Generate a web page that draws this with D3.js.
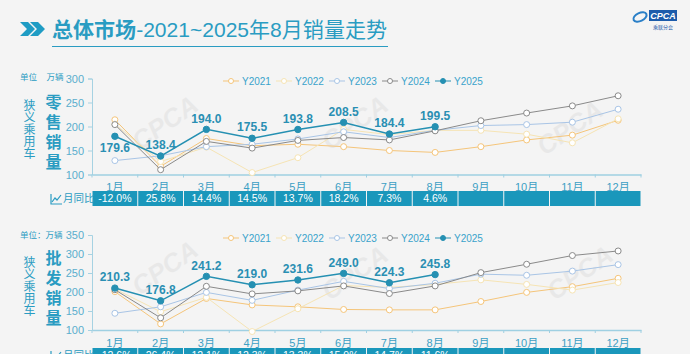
<!DOCTYPE html>
<html>
<head lang="zh">
<meta charset="UTF-8">
<title>总体市场</title>
<script src="https://cdn.jsdelivr.net/npm/d3@7/dist/d3.min.js"></script>
<style>
  body { margin:0; background:#f4f4f4; }
  svg text { font-family:"Liberation Sans","Noto Sans CJK SC",sans-serif; }
</style>
</head>
<body>
<script>
    var months = ['1月','2月','3月','4月','5月','6月','7月','8月','9月','10月','11月','12月'];
    var years = ['Y2021','Y2022','Y2023','Y2024','Y2025'];

    // 零售 (万辆)
    var retail2021 = [214,117,175,160,163,158,150,146,158,172,182,213];
    var retail2022 = [205,127,157,104,135,194,183,192,192,184,166,216];
    var retail2023 = [129,139,158,163,174,189,177,192,202,204,209,236];
    var retail2024 = [204,110,169,155,171,177,172,191,212,228,243,264];
    var retail2025 = [179.6,138.4,194.0,175.5,193.8,208.5,184.4,199.5];
    var retailYoy = ['-12.0%','25.8%','14.4%','14.5%','13.7%','18.2%','7.3%','4.6%','','','',''];
    var retailTicks = [100,150,200,250,300];

    // 批发 (万辆)
    var whole2021 = [201,116,183,166,161,154,153,153,175,199,214,236];
    var whole2022 = [208,148,186,96,156,217,212,220,232,220,205,225];
    var whole2023 = [144,161,199,178,205,228,209,223,247,244,255,272];
    var whole2024 = [206,132,215,195,203,216,196,216,251,273,296,308];
    var whole2025 = [210.3,176.8,241.2,219.0,231.6,249.0,224.3,245.8];
    var wholeYoy = ['-12.6%','26.4%','12.1%','12.3%','13.3%','15.9%','14.7%','11.6%','','','',''];
    var wholeTicks = [100,150,200,250,300,350];

    var colors = ['#f5c57a','#f6e4b4','#a9c5e6','#8a8a8a','#2590b2'];
    var teal = '#2a9cc2';

    var svg = d3.select("body").append("svg")
            .attr("width",690).attr("height",354);
    svg.append("rect").attr("width",690).attr("height",354).attr("fill","#f4f4f4");

    // 标题
    var gt = svg.append("g");
    [20,30].forEach(function(x){
        gt.append("path")
          .attr("d","M"+x+",22 L"+(x+8)+",22 L"+(x+15)+",29 L"+(x+8)+",36 L"+x+",36 L"+(x+7)+",29 Z")
          .attr("fill","#1f9cc4");
    });
    var title = gt.append("text").attr("x",52).attr("y",37)
            .attr("font-size",21).attr("fill",teal)
            .attr("textLength",335).attr("lengthAdjust","spacingAndGlyphs");
    title.append("tspan").attr("font-weight","bold").text("总体市场");
    title.append("tspan").text("-2021~2025年8月销量走势");
    gt.append("line").attr("x1",52).attr("x2",388).attr("y1",46.5).attr("y2",46.5)
            .attr("stroke",teal).attr("stroke-width",1.2);

    // logo
    var gl = svg.append("g");
    gl.append("ellipse").attr("cx",640).attr("cy",17).attr("rx",7).attr("ry",4)
            .attr("fill","none").attr("stroke","#2a7fc7").attr("stroke-width",2)
            .attr("transform","rotate(-25,640,17)");
    gl.append("rect").attr("x",649).attr("y",10).attr("width",28).attr("height",11).attr("fill","#1c5cab");
    gl.append("text").attr("x",663).attr("y",19).attr("text-anchor","middle")
            .attr("font-size",9).attr("font-weight","bold").attr("font-style","italic")
            .attr("fill","#fff").text("CPCA");
    gl.append("text").attr("x",663).attr("y",29).attr("text-anchor","middle")
            .attr("font-size",5).attr("fill","#1c5cab").text("乘联分会");

    // 水印
    [[170,130],[360,130],[575,135],[170,275],[360,280],[585,280]].forEach(function(p){
        svg.append("text").attr("x",p[0]).attr("y",p[1])
           .attr("transform","rotate(-35,"+p[0]+","+p[1]+")")
           .attr("text-anchor","middle").attr("font-size",26).attr("font-weight","bold")
           .attr("font-style","italic").attr("fill","#000").attr("opacity",0.045).text("CPCA");
    });

    var x = d3.scaleBand().domain(months).range([92,641]);

    function drawPanel(cfg){
        var y = d3.scaleLinear().domain(cfg.domain).range(cfg.range);
        var g = svg.append("g");
        var y0 = cfg.range[0];

        // 左侧文字 (竖排)
        g.append("text").attr("x",20).attr("y",cfg.unitY).attr("font-size",8.5)
         .attr("fill",teal).attr("xml:space","preserve").text(cfg.unit);
        g.append("text").attr("x",28).attr("y",cfg.nameY-6)
         .style("writing-mode","vertical-rl").attr("font-size",12)
         .attr("letter-spacing",0.2).attr("fill",teal).text("狭义乘用车");
        g.append("text").attr("x",52).attr("y",cfg.kindY-8)
         .style("writing-mode","vertical-rl").attr("font-size",16).attr("font-weight","bold")
         .attr("letter-spacing",4).attr("fill",teal).text(cfg.kind);

        // y轴
        var gy = g.append("g").attr("transform","translate(92,0)")
                .call(d3.axisLeft(y).tickValues(cfg.ticks).tickSize(4).tickPadding(4));
        gy.selectAll("path,line").attr("stroke","#a6d2e2");
        gy.selectAll("text").attr("fill","#5aaecd").attr("font-size",11).attr("font-family","Liberation Sans");

        // x轴
        var gx = g.append("g").attr("transform","translate(0,"+y0+")")
                .call(d3.axisBottom(x).tickSize(0).tickPadding(9));
        gx.select(".domain").attr("stroke","#9fd0e2").attr("stroke-width",1.5);
        gx.selectAll("text").attr("fill","#3c9fc4").attr("font-size",11);
        g.selectAll(".btick").data(months).enter().append("line")
         .attr("x1",function(d){return x(d);}).attr("x2",function(d){return x(d);})
         .attr("y1",y0).attr("y2",y0+3).attr("stroke","#9fd0e2");
        g.append("line").attr("x1",641).attr("x2",641).attr("y1",y0).attr("y2",y0+3).attr("stroke","#9fd0e2");

        // 图例
        var lg = g.append("g").attr("transform","translate(231,"+cfg.legendY+")");
        years.forEach(function(s,i){
            var it = lg.append("g").attr("transform","translate("+(i*53)+",0)");
            it.append("line").attr("x1",-8).attr("x2",8).attr("stroke",colors[i]);
            it.append("circle").attr("r",2.5).attr("fill",i==4?colors[i]:"#fff")
              .attr("stroke",colors[i]);
            it.append("text").attr("x",11).attr("dy","0.35em").attr("font-size",10)
              .attr("fill","#3aa3cb").text(s);
        });

        // 折线
        var line = d3.line().x(function(d,i){return x(months[i])+x.bandwidth()/2;})
                .y(function(d){return y(d);});
        cfg.series.forEach(function(vals,k){
            var gs = g.append("g");
            gs.append("path").datum(vals).attr("d",line).attr("fill","none")
              .attr("stroke",colors[k]).attr("stroke-width",k==4?1.5:1);
            gs.selectAll("circle").data(vals).enter().append("circle")
              .attr("cx",function(d,i){return x(months[i])+x.bandwidth()/2;})
              .attr("cy",function(d){return y(d);})
              .attr("r",k==4?3.2:3)
              .attr("fill",k==4?colors[k]:"#fff")
              .attr("stroke",colors[k]).attr("stroke-width",1);
        });

        // 数据标签
        g.selectAll(".lbl").data(cfg.series[4]).enter().append("text")
         .attr("x",function(d,i){return x(months[i])+x.bandwidth()/2;})
         .attr("y",function(d,i){return y(d)+(cfg.below.indexOf(i)>=0?12:-11);})
         .attr("dy","0.35em").attr("text-anchor","middle")
         .attr("font-size",12).attr("font-weight","bold").attr("fill","#2a8fb3")
         .text(function(d){return d3.format(".1f")(d);});

        // 同比表
        var ty = cfg.tableY;
        g.selectAll(".cell").data(cfg.yoy).enter().append("rect")
         .attr("x",function(d,i){return x(months[i])+0.5;}).attr("y",ty)
         .attr("width",x.bandwidth()-1).attr("height",15).attr("fill","#1a97bb");
        g.selectAll(".ctext").data(cfg.yoy).enter().append("text")
         .attr("x",function(d,i){return x(months[i])+x.bandwidth()/2;}).attr("y",ty+7.5)
         .attr("dy","0.35em").attr("text-anchor","middle").attr("font-size",10.5)
         .attr("fill","#fff").text(function(d){return d;});
        var ic = g.append("g").attr("transform","translate(50,"+(ty+2)+")");
        ic.append("path").attr("d","M1,1 L1,11 L12,11").attr("fill","none").attr("stroke",teal).attr("stroke-width",1.2);
        ic.append("path").attr("d","M2,9 L5,5 L7,7 L11,2").attr("fill","none").attr("stroke",teal).attr("stroke-width",1.2);
        g.append("text").attr("x",63).attr("y",ty+7.5).attr("dy","0.35em").attr("font-size",10.5)
         .attr("fill",teal).text("月同比");
    }

    drawPanel({
        domain:[100,300], range:[174.5,78.5], ticks:retailTicks,
        series:[retail2021,retail2022,retail2023,retail2024,retail2025],
        yoy:retailYoy, kind:"零售销量", unit:"单位    万辆",
        unitY:80, nameY:105, kindY:102, legendY:81, tableY:191, below:[0]
    });
    drawPanel({
        domain:[100,350], range:[330,235], ticks:wholeTicks,
        series:[whole2021,whole2022,whole2023,whole2024,whole2025],
        yoy:wholeYoy, kind:"批发销量", unit:"单位：万辆",
        unitY:238, nameY:262, kindY:258, legendY:238, tableY:348, below:[]
    });
</script>
</body>
</html>
